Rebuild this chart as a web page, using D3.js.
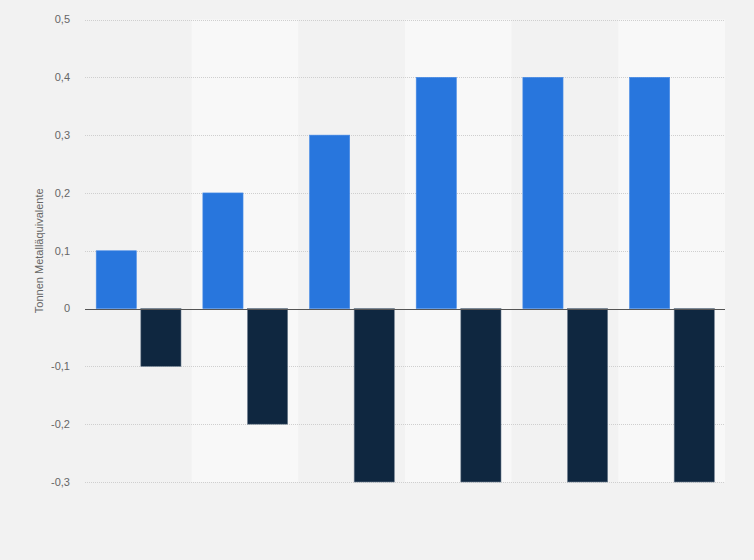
<!DOCTYPE html>
<html><head><meta charset="utf-8">
<script src="https://cdn.jsdelivr.net/npm/d3@7"></script>
<style>body{margin:0;background:#f2f2f2;}svg{display:block;font-family:"Liberation Sans",Arial,sans-serif;}</style>
</head><body><svg id="c" width="754" height="560"></svg>
<script>
const categories = ["1","2","3","4","5","6"];
const seriesNames = ["Positiv","Negativ"];
const positiveValues = [0.1,0.2,0.3,0.4,0.4,0.4];
const negativeValues = [-0.1,-0.2,-0.3,-0.3,-0.3,-0.3];
const yTicks = [-0.3,-0.2,-0.1,0,0.1,0.2,0.3,0.4,0.5];
const colors = ["#2876dd","#0f2740"];
const yLabel = "Tonnen Metalläquivalente";

const svg = d3.select("#c");
const m = {l:85, r:29, t:19.5, b:78};
const W = 754, H = 560;
const x0 = d3.scaleBand().domain(categories).range([m.l, W-m.r]).padding(0);
const y = d3.scaleLinear().domain([-0.3,0.5]).range([H-m.b, m.t]);
const bw = x0.bandwidth();
const x1 = d3.scaleBand().domain(seriesNames).range([bw*0.105, bw*0.9]).paddingInner(0.1);

// bands
svg.append("g").selectAll("rect").data(categories).join("rect")
  .attr("x", d=>x0(d)).attr("y", y(0.5)).attr("width", bw).attr("height", y(-0.3)-y(0.5))
  .attr("fill", (d,i)=> i%2 ? "#f8f8f8" : "#f2f2f2");

// grid
svg.append("g").selectAll("line").data(yTicks.filter(t=>t!==0)).join("line")
  .attr("x1", m.l).attr("x2", W-m.r).attr("y1", d=>Math.round(y(d))+0.5).attr("y2", d=>Math.round(y(d))+0.5)
  .attr("stroke", "#cfcfcf").attr("stroke-width",1).attr("stroke-dasharray","1,1");

// axis labels
const fmt = d => d3.format(".1f")(d).replace(".",",").replace("−","-").replace(/^0,0$/,"0").replace(/^-0,0$/,"0");
svg.append("g").selectAll("text").data(yTicks).join("text")
  .attr("x", 70).attr("y", d=>y(d)).attr("dy","0.35em").attr("text-anchor","end")
  .attr("font-size", 11).attr("fill","#666").text(d=> d===0 ? "0" : fmt(d));

svg.append("text").attr("transform", `translate(43,${(y(0.5)+y(-0.3))/2}) rotate(-90)`)
  .attr("text-anchor","middle").attr("font-size",11).attr("fill","#666").text(yLabel);

// bars
const series = [positiveValues, negativeValues];
series.forEach((vals, si) => {
  svg.append("g").selectAll("rect").data(vals).join("rect")
    .attr("x", (d,i)=> x0(categories[i]) + x1(seriesNames[si]))
    .attr("width", x1.bandwidth())
    .attr("y", d => y(Math.max(0,d)))
    .attr("height", d => Math.abs(y(d)-y(0)))
    .attr("fill", colors[si])
    .attr("stroke", si ? "#6f7f8f" : "#4a8ce6").attr("stroke-width",0.6);
});

// zero line
svg.append("line").attr("x1", m.l).attr("x2", W-m.r).attr("y1", Math.round(y(0))+0.5).attr("y2", Math.round(y(0))+0.5)
  .attr("stroke","#555").attr("stroke-width",1.2);
</script></body></html>
